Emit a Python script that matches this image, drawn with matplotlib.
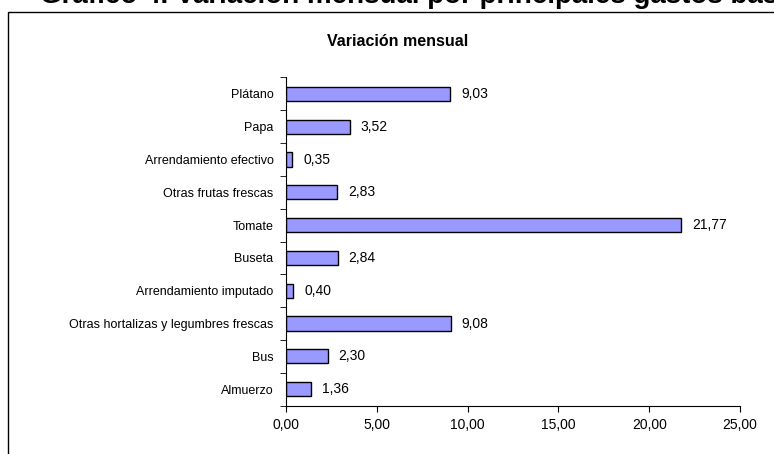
import numpy as np
import matplotlib.pyplot as plt
from matplotlib.patches import Rectangle

plt.rcParams['font.family'] = ['Liberation Sans', 'DejaVu Sans']

categorias = ["Plátano", "Papa", "Arrendamiento efectivo", "Otras frutas frescas",
              "Tomate", "Buseta", "Arrendamiento imputado",
              "Otras hortalizas y legumbres frescas", "Bus", "Almuerzo"]
valores = [9.03, 3.52, 0.35, 2.83, 21.77, 2.84, 0.40, 9.08, 2.30, 1.36]
xticks = [0, 5, 10, 15, 20, 25]

fig = plt.figure(figsize=(7.74, 4.54), dpi=100)

# marco del grafico (cortado a la derecha y abajo)
fig.patches.append(Rectangle((8 / 774, -0.1), 1.0, (454 - 12) / 454 + 0.1,
                             transform=fig.transFigure, fill=False,
                             edgecolor='black', linewidth=1.0))

# titulo general, cortado arriba como en la imagen original
fig.text(40 / 774, 1 - 3 / 454, "Gráfico 4. Variación mensual por principales gastos básicos",
         ha='left', va='baseline', fontsize=20, fontweight='bold')

fig.text(398 / 774, 1 - 42 / 454, "Variación mensual", ha='center', va='center',
         fontsize=11.5, fontweight='bold')

ax = fig.add_axes([286 / 774, 1 - 405.5 / 454, (740 - 286) / 774, (405.5 - 77.5) / 454])

y = np.arange(len(categorias))
ax.barh(y, valores, height=0.43, color='#9999FF', edgecolor='black', linewidth=1.0)
for yi, v in zip(y, valores):
    ax.text(v + 0.6, yi, ("%.2f" % v).replace('.', ','), va='center', ha='left', fontsize=10)

ax.set_ylim(len(categorias) - 0.5, -0.5)
ax.set_xlim(0, 25)
ax.set_yticks(y)
ax.set_yticklabels(categorias, fontsize=9)
ax.set_yticks(np.arange(-0.5, len(categorias)), minor=True)
ax.tick_params(axis='y', which='major', length=0, pad=9)
ax.tick_params(axis='y', which='minor', length=4, direction='out')
ax.set_xticks(xticks)
ax.set_xticklabels([("%.2f" % t).replace('.', ',') for t in xticks], fontsize=10)
ax.tick_params(axis='x', length=4, direction='out', pad=5)
ax.spines['top'].set_visible(False)
ax.spines['right'].set_visible(False)

plt.savefig("out.png", dpi=100)
plt.close()
